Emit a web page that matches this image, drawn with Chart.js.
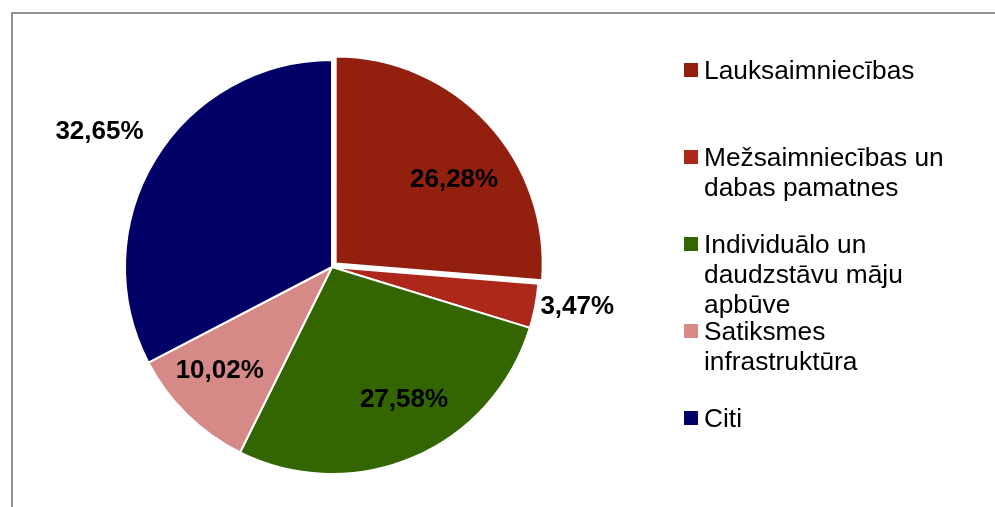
<!DOCTYPE html>
<html>
<head>
<meta charset="utf-8">
<script src="https://cdn.jsdelivr.net/npm/chart.js@4.4.1/dist/chart.umd.min.js"></script>
<style>
  html, body { margin: 0; padding: 0; background: #fff; }
  #wrap { position: relative; width: 995px; height: 507px; overflow: hidden; }
  #frame {
    position: absolute; left: 11px; top: 12px; right: -4px; bottom: -4px;
    border-top: 2px solid #939393; border-left: 2px solid #939393;
  }
  #pie { position: absolute; left: 0; top: 0; }
  #legend {
    position: absolute; left: 684px; top: 55px;
    font-family: "Liberation Sans", Arial, sans-serif; font-size: 26.3px; color: #000;
  }
  .item { position: absolute; left: 0; width: 280px; }
  .box { position: absolute; left: 0; top: 8px; width: 14px; height: 14px; }
  .txt { position: absolute; left: 20px; width: 258px; line-height: 30px; }
</style>
</head>
<body>
<div id="wrap">
  <div id="frame"></div>
  <canvas id="pie" width="995" height="507"></canvas>
  <div id="legend"></div>
</div>
<script>
const categories = [
  "Lauksaimniecības",
  "Mežsaimniecības un dabas pamatnes",
  "Individuālo un daudzstāvu māju apbūve",
  "Satiksmes infrastruktūra",
  "Citi",
];
const shares = [26.28, 3.47, 27.58, 10.02, 32.65];
const colors = ["#93200f", "#ad281a", "#336600", "#d58a87", "#000066"];

// where Excel put each percent label: fraction of radius, shift from mid angle (deg)
const labelRadius = [0.70, 1.20, 0.73, 0.74, 1.30];
const labelShift = [7.5, -1.7, -5.2, 2.7, -1.0];

const pctLabels = {
  id: "pctLabels",
  afterDatasetsDraw(chart) {
    const ctx = chart.ctx;
    const meta = chart.getDatasetMeta(0);
    ctx.save();
    ctx.font = "bold 26px 'Liberation Sans', Arial, sans-serif";
    ctx.fillStyle = "#000";
    ctx.textAlign = "center";
    ctx.textBaseline = "middle";
    meta.data.forEach((arc, i) => {
      const p = arc.getProps(["x", "y", "startAngle", "endAngle", "outerRadius"], true);
      const mid = (p.startAngle + p.endAngle) / 2;
      // arc element moves an exploded slice by offset / 4
      const off = (arc.options.offset || 0) / 4;
      const cx = p.x + Math.cos(mid) * off;
      const cy = p.y + Math.sin(mid) * off;
      const a = mid + labelShift[i] * Math.PI / 180;
      const r = p.outerRadius * labelRadius[i];
      const text = shares[i].toFixed(2).replace(".", ",") + "%";
      ctx.fillText(text, cx + Math.cos(a) * r, cy + Math.sin(a) * r);
    });
    ctx.restore();
  },
};

new Chart(document.getElementById("pie"), {
  type: "pie",
  data: {
    labels: categories,
    datasets: [
      {
        data: shares,
        backgroundColor: colors,
        borderColor: "#ffffff",
        borderWidth: 2,
        offset: [20, 0, 0, 0, 0],
        hoverOffset: 0,
      },
    ],
  },
  options: {
    responsive: false,
    animation: false,
    events: [],
    layout: {
      padding: { left: 114, right: 445, top: 49, bottom: 22 },
    },
    plugins: {
      legend: { display: false },
      tooltip: { enabled: false },
    },
  },
  plugins: [pctLabels],
});

// legend on the right, one entry every 87px
const legend = document.getElementById("legend");
categories.forEach((name, i) => {
  const item = document.createElement("div");
  item.className = "item";
  item.style.top = i * 87 + "px";
  const box = document.createElement("div");
  box.className = "box";
  box.style.background = colors[i];
  const txt = document.createElement("div");
  txt.className = "txt";
  txt.textContent = name;
  item.appendChild(box);
  item.appendChild(txt);
  legend.appendChild(item);
});
</script>
</body>
</html>
